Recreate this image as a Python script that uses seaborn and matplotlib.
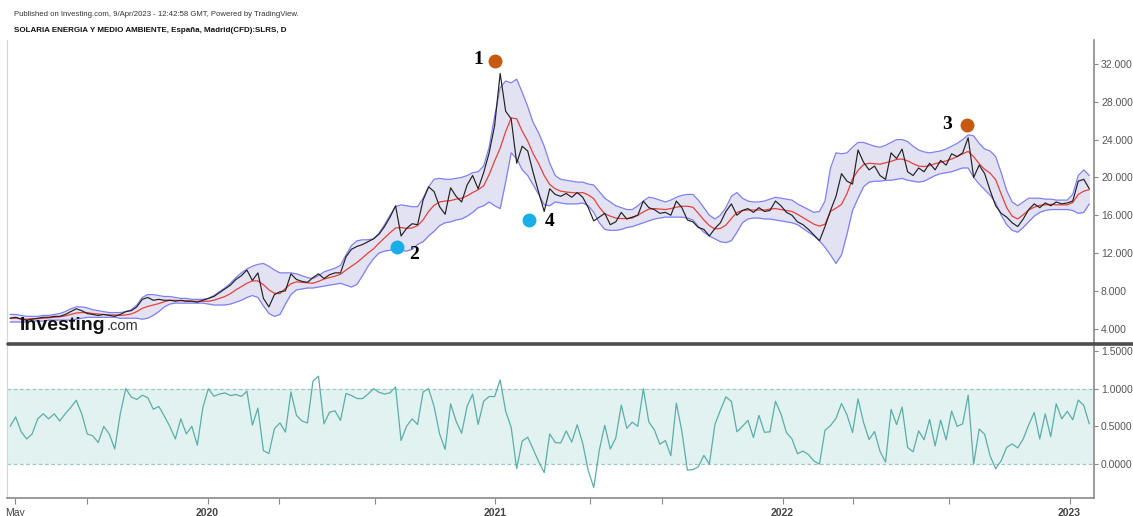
import numpy as np
import pandas as pd
import matplotlib
matplotlib.use("Agg")
import matplotlib.pyplot as plt
from matplotlib.lines import Line2D
import seaborn as sns

# ---------------- data (weekly samples) ----------------
start_date = "2019-04-25"
price = [5.1, 5.2, 5.0, 4.9, 5.0, 5.1, 5.2, 5.2, 5.3, 5.3,
         5.5, 5.8, 6.1, 5.9, 5.6, 5.5, 5.4, 5.5, 5.4, 5.3,
         5.5, 5.8, 5.9, 6.3, 7.1, 7.3, 7.0, 7.1, 7.0, 7.0,
         6.9, 7.0, 6.9, 6.9, 6.8, 7.0, 7.2, 7.4, 7.8, 8.2,
         8.6, 9.2, 9.6, 10.2, 9.1, 9.9, 7.2, 6.3, 7.6, 7.9,
         8.0, 9.8, 9.2, 9.0, 8.9, 9.4, 9.8, 9.3, 9.7, 9.9,
         9.9, 11.6, 12.4, 12.7, 12.9, 13.2, 13.5, 14.0, 14.8, 15.8,
         17.0, 13.8, 14.6, 15.1, 15.0, 17.6, 19.0, 18.5, 16.9, 16.1,
         18.9, 18.0, 17.4, 19.2, 20.2, 18.8, 20.5, 22.6, 25.5, 31.0,
         27.0, 26.2, 21.5, 23.3, 22.8, 20.5, 18.4, 16.4, 18.8, 18.2,
         18.0, 18.3, 17.9, 18.4, 17.9, 16.8, 15.4, 15.8, 16.2, 15.0,
         15.3, 16.3, 15.6, 15.8, 16.0, 17.5, 16.8, 16.6, 16.2, 16.3,
         16.0, 17.5, 16.8, 15.5, 15.3, 14.7, 14.5, 13.8, 14.6, 15.2,
         16.4, 17.2, 16.0, 16.5, 16.7, 16.3, 16.8, 16.4, 16.5, 17.5,
         17.0, 16.3, 16.0, 15.3, 15.0, 14.5, 13.9, 13.3, 14.8, 16.5,
         18.0, 20.4, 19.6, 19.3, 22.9, 21.6, 20.8, 21.2, 20.2, 19.8,
         22.6, 22.0, 23.0, 20.6, 20.2, 21.0, 20.6, 21.5, 20.8, 21.8,
         21.3, 22.5, 22.2, 22.6, 24.2, 20.0, 21.3, 20.4, 18.6, 17.0,
         16.2, 15.8, 15.2, 14.8, 15.6, 16.6, 17.2, 16.8, 17.3, 17.0,
         17.4, 17.2, 17.3, 17.5, 19.6, 19.8, 18.8]
upper = [5.5, 5.5, 5.4, 5.3, 5.3, 5.3, 5.4, 5.4, 5.5, 5.6,
         5.8, 6.1, 6.3, 6.3, 6.2, 6.0, 5.9, 5.8, 5.7, 5.7,
         5.7, 5.8, 6.0, 6.5, 7.3, 7.6, 7.6, 7.5, 7.4, 7.4,
         7.3, 7.2, 7.2, 7.1, 7.1, 7.1, 7.2, 7.5, 7.9, 8.3,
         8.8, 9.4, 9.9, 10.3, 10.6, 10.8, 10.9, 10.6, 10.2, 9.9,
         9.9, 9.9, 9.8, 9.6, 9.4, 9.3, 9.6, 10.0, 10.2, 10.4,
         10.7, 11.8, 12.8, 13.3, 13.4, 13.4, 13.5, 14.1, 15.0, 16.0,
         16.9, 17.1, 17.0, 16.9, 16.9, 17.8, 19.0, 19.8, 19.9, 19.8,
         19.8, 19.9, 20.0, 20.2, 20.5, 20.6, 21.2, 23.2, 26.5, 29.5,
         30.2, 30.0, 30.4, 29.0, 27.5, 25.8, 24.7, 23.3, 21.5, 20.2,
         19.8, 19.7, 19.6, 19.5, 19.5, 19.3, 19.2, 18.5, 17.8, 17.4,
         17.0, 16.8, 16.6, 16.6, 17.0, 17.5, 17.9, 17.8, 17.6, 17.4,
         17.6, 17.9, 18.1, 18.2, 18.2, 17.6, 16.8, 16.0, 15.6, 16.0,
         16.8, 18.0, 18.4, 17.8, 17.5, 17.4, 17.4, 17.5, 17.7, 17.9,
         17.8, 17.7, 17.6, 17.2, 16.9, 16.6, 16.3, 16.4, 17.5, 21.0,
         22.6, 22.5, 22.6, 23.2, 23.7, 23.7, 23.5, 23.3, 23.2, 23.4,
         23.7, 24.0, 24.0, 23.8, 23.3, 22.9, 22.7, 22.6, 22.7, 22.8,
         23.0, 23.3, 23.6, 24.0, 24.5, 24.4, 23.6, 23.0, 22.8, 22.2,
         20.5, 18.6, 17.4, 17.0, 17.4, 17.8, 17.8, 17.8, 17.7, 17.7,
         17.6, 17.6, 17.6, 18.2, 20.2, 20.8, 20.2]
lower = [4.7, 4.7, 4.7, 4.7, 4.8, 4.8, 4.8, 4.9, 4.9, 4.9,
         4.9, 4.9, 5.0, 5.1, 5.2, 5.2, 5.2, 5.2, 5.2, 5.2,
         5.1, 5.1, 5.1, 5.1, 5.0, 5.1, 5.4, 5.8, 6.3, 6.6,
         6.7, 6.7, 6.7, 6.7, 6.7, 6.7, 6.6, 6.5, 6.5, 6.5,
         6.6, 6.8, 7.0, 7.3, 7.5, 7.3, 6.4, 5.6, 5.3, 5.5,
         6.6, 7.6, 8.1, 8.2, 8.3, 8.3, 8.4, 8.5, 8.6, 8.7,
         8.8, 8.6, 8.4, 8.7, 9.6, 10.6, 11.4, 12.0, 12.2, 12.3,
         12.4, 12.3, 12.2, 12.4, 12.9, 13.2, 13.8, 14.3, 14.9, 15.2,
         15.3, 15.5, 15.6, 15.9, 16.3, 16.8, 17.0, 17.4, 17.0, 16.7,
         19.5, 22.6, 22.0, 20.8, 20.2, 19.2, 18.2, 17.1, 17.0, 17.4,
         17.3, 17.2, 17.2, 17.2, 17.3, 17.0, 16.3, 15.2, 14.5, 14.4,
         14.4, 14.5, 14.7, 14.8, 15.0, 15.2, 15.4, 15.6, 15.7, 15.8,
         15.8, 15.8, 15.8, 15.7, 15.5, 14.8, 14.2, 13.8, 13.5, 13.2,
         13.1, 13.3, 14.2, 15.2, 15.6, 15.7, 15.7, 15.6, 15.6, 15.5,
         15.4, 15.3, 15.2, 15.0, 14.6, 14.2, 13.8, 13.3, 12.6, 11.8,
         10.9, 11.8, 14.0, 16.5, 17.8, 19.0, 19.5, 19.6, 19.6, 19.7,
         19.7, 19.8, 19.9, 19.7, 19.6, 19.5, 19.6, 19.9, 20.2, 20.4,
         20.5, 20.6, 20.8, 21.0, 21.0, 20.0, 19.3, 18.7, 18.1, 17.3,
         16.0, 15.0, 14.4, 14.2, 14.7, 15.3, 15.9, 16.3, 16.5, 16.6,
         16.6, 16.6, 16.6, 16.5, 16.2, 16.3, 17.2]

price_ticks = [4, 8, 12, 16, 20, 24, 28, 32]
pctb_ticks = [0.0, 0.5, 1.0, 1.5]
x_tick_dates = ["2019-05-01", "2019-08-01", "2020-01-01", "2020-04-01",
                "2020-08-01", "2021-01-01", "2021-05-01", "2021-08-01",
                "2022-01-01", "2022-04-01", "2022-08-01", "2023-01-01"]
x_tick_labels = ["May", "", "2020", "", "", "2021", "", "", "2022", "", "", "2023"]

ann_labels = ["1", "2", "3", "4"]
ann_dates = ["2021-01-01", "2020-08-29", "2022-08-23", "2021-02-13"]
ann_values = [32.3, 12.6, 25.5, 15.5]
ann_colors = ["#c55a11", "#1aaee8", "#c55a11", "#1aaee8"]
ann_offsets = [(-12, 1), (12, -5), (-14, 1), (15, -1)]

header_1 = "Published on Investing.com, 9/Apr/2023 - 12:42:58 GMT, Powered by TradingView."
header_2 = "SOLARIA ENERGIA Y MEDIO AMBIENTE, España, Madrid(CFD):SLRS, D"

# ---------------- derived frame ----------------
dates = pd.date_range(start_date, periods=len(price), freq="7D")
df = pd.DataFrame({"date": dates, "price": price, "upper": upper, "lower": lower})
df["mid"] = (df["upper"] + df["lower"]) / 2
df["pctb"] = (df["price"] - df["lower"]) / (df["upper"] - df["lower"])

# ---------------- figure ----------------
sns.set_style("white")
plt.rcParams["font.family"] = ["Liberation Sans", "DejaVu Sans"]
W, H = 1133, 516
fig = plt.figure(figsize=(W / 100, H / 100), dpi=100)

def fx(px):
    return px / W

def fy(py):
    return 1 - py / H

left_px, right_px = 7, 1094
ax1 = fig.add_axes([fx(left_px), fy(343), fx(right_px - left_px), (343 - 40) / H])
ax2 = fig.add_axes([fx(left_px), fy(498), fx(right_px - left_px), (498 - 343) / H], sharex=ax1)

band_line = "#7f7ff2"
band_fill = "#e2e2f3"

# top panel
ax1.fill_between(df["date"], df["lower"], df["upper"], color=band_fill, lw=0, zorder=1)
sns.lineplot(data=df, x="date", y="upper", ax=ax1, color=band_line, lw=0.9, zorder=2)
sns.lineplot(data=df, x="date", y="lower", ax=ax1, color=band_line, lw=0.9, zorder=2)
sns.lineplot(data=df, x="date", y="mid", ax=ax1, color="#e8403a", lw=0.9, zorder=3)
sns.lineplot(data=df, x="date", y="price", ax=ax1, color="#222222", lw=0.85, zorder=4)

for lab, d, v, c, off in zip(ann_labels, ann_dates, ann_values, ann_colors, ann_offsets):
    ax1.plot(pd.Timestamp(d), v, "o", ms=9, color=c, zorder=6)
    ax1.annotate(lab, (pd.Timestamp(d), v), xytext=off, textcoords="offset points",
                 ha="center", va="center", fontsize=14, fontweight="bold",
                 family="Liberation Serif", color="black", zorder=7)

ax1.set_ylim(2.48, 34.54)
ax1.set_yticks(price_ticks)
ax1.set_yticklabels([f"{t:.3f}" for t in price_ticks])

# bottom panel
ax2.axhspan(0, 1, color="#e2f2f0", lw=0, zorder=0)
ax2.axhline(0, color="#9cc9c5", lw=0.9, ls=(0, (3, 2)), zorder=1)
ax2.axhline(1, color="#9cc9c5", lw=0.9, ls=(0, (3, 2)), zorder=1)
sns.lineplot(data=df, x="date", y="pctb", ax=ax2, color="#5aaeaa", lw=0.9, zorder=3)
ax2.set_ylim(-0.45, 1.606)
ax2.set_yticks(pctb_ticks)
ax2.set_yticklabels([f"{t:.4f}" for t in pctb_ticks])

ax1.set_xlim(pd.Timestamp("2019-04-21"), pd.Timestamp("2023-02-01"))
ax2.set_xticks([pd.Timestamp(d) for d in x_tick_dates])
ax2.set_xticklabels(x_tick_labels)
for t in ax2.get_xticklabels():
    if t.get_text() not in ("May", ""):
        t.set_fontweight("bold")

for ax in (ax1, ax2):
    ax.set_xlabel("")
    ax.set_ylabel("")
    ax.yaxis.tick_right()
    ax.tick_params(axis="y", which="both", right=True, left=False, length=3,
                   width=0.8, color="#888888", labelcolor="#555555", labelsize=7.5, pad=2)
    ax.spines["top"].set_visible(False)
    ax.spines["left"].set_color("#d5d5d5")
    ax.spines["right"].set_color("#8a8a8a")
    ax.spines["right"].set_linewidth(1.2)
    ax.set_facecolor("white")

ax1.tick_params(axis="x", bottom=False, labelbottom=False)
ax1.spines["bottom"].set_visible(False)
ax2.spines["bottom"].set_color("#8a8a8a")
ax2.spines["bottom"].set_linewidth(1.2)
ax2.tick_params(axis="x", bottom=True, length=4, width=0.8, color="#888888",
                labelcolor="#444444", labelsize=7.5, pad=3)

# thick separator between panels, running to the right edge
fig.add_artist(Line2D([fx(8), 1.0], [fy(343.5), fy(343.5)], lw=2.6, color="#4d4d4d",
                      transform=fig.transFigure, zorder=30))

# header texts
fig.text(fx(14), fy(15), header_1, fontsize=5.6, color="#333333", va="center", ha="left")
fig.text(fx(14), fy(30), header_2, fontsize=5.8, color="#111111", va="center", ha="left",
         fontweight="bold")

# logo
fig.text(fx(20), fy(330), "Investing", fontsize=14, fontweight="bold", color="#111111",
         va="baseline", ha="left", zorder=20)
fig.text(fx(107), fy(330), ".com", fontsize=10.5, color="#333333",
         va="baseline", ha="left", zorder=20)

fig.savefig("out.png", dpi=100)
